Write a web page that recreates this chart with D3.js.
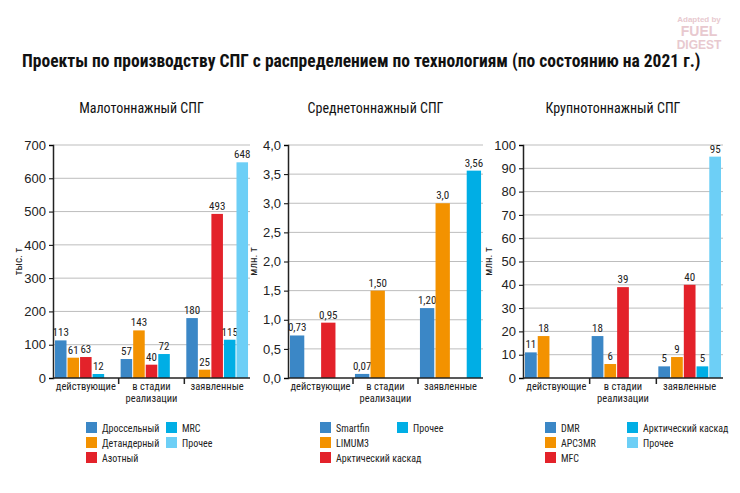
<!DOCTYPE html>
<html><head><meta charset="utf-8">
<script src="https://cdn.jsdelivr.net/npm/d3@7"></script>
<style>body{margin:0;background:#fff;font-family:Roboto,"Liberation Sans",sans-serif}
.n{font-family:"Liberation Sans Narrow","Roboto Condensed","DejaVu Sans Condensed",sans-serif}</style>
</head><body><svg id="c" width="740" height="493"></svg>
<script>
const groups = ["действующие", "в стадии\nреализации", "заявленные"];
const colors = {blue:"#3b87c6", orange:"#f39200", red:"#e3222a", cyan:"#00aee5", light:"#6dcff6"};

const p1Series = ["Дроссельный","Детандерный","Азотный","MRC","Прочее"];
const p1Colors = ["blue","orange","red","cyan","light"];
const p1Values = [[113,61,63,12,null],[57,143,40,72,null],[180,25,493,115,648]];
const p1Labels = [["113","61","63","12",""],["57","143","40","72",""],["180","25","493","115","648"]];
const p1Ticks = [0,100,200,300,400,500,600,700];

const p2Series = ["Smartfin","LIMUM3","Арктический каскад","Прочее"];
const p2Colors = ["blue","orange","red","cyan"];
const p2Values = [[0.73,null,0.95,null],[0.07,1.50,null,null],[1.20,3.0,null,3.56]];
const p2Labels = [["0,73","","0,95",""],["0,07","1,50","",""],["1,20","3,0","","3,56"]];
const p2Ticks = [0,0.5,1,1.5,2,2.5,3,3.5,4];

const p3Series = ["DMR","APC3MR","MFC","Арктический каскад","Прочее"];
const p3Colors = ["blue","orange","red","cyan","light"];
const p3Values = [[11,18,null,null,null],[18,6,39,null,null],[5,9,40,5,95]];
const p3Labels = [["11","18","","",""],["18","6","39","",""],["5","9","40","5","95"]];
const p3Ticks = [0,10,20,30,40,50,60,70,80,90,100];

const svg = d3.select("#c");
svg.append("text").attr("class","n").attr("x",22).attr("y",67).attr("font-size",17.5).attr("font-weight",700).attr("fill","#111")
  .text("Проекты по производству СПГ с распределением по технологиям (по состоянию на 2021 г.)");
const logo = svg.append("g").attr("fill","#e8c9cf").attr("text-anchor","middle").attr("font-family","'Liberation Sans',sans-serif");
logo.append("text").attr("x",699).attr("y",22).attr("font-size",8).attr("font-weight",700).text("Adapted by");
logo.append("text").attr("x",699).attr("y",36).attr("font-size",14).attr("font-weight",900).text("FUEL");
logo.append("text").attr("x",699).attr("y",49).attr("font-size",12).attr("font-weight",900).text("DIGEST");

function panel(cfg){
  const {x0,x1,title,ylab,max,ticks,fmt,series,cols,values,labels,legend} = cfg;
  const top=145, bot=378;
  const g = svg.append("g").attr("class","n");
  g.append("text").attr("x",(x0+x1)/2-10).attr("y",113).attr("text-anchor","middle").attr("font-size",14).attr("fill","#111").text(title);
  const y = d3.scaleLinear().domain([0,max]).range([bot,top]);
  const x = d3.scaleBand().domain(d3.range(3)).range([x0,x1]).paddingInner(0.06).paddingOuter(0.03);
  const xs = d3.scaleBand().domain(d3.range(series.length)).range([0,x.bandwidth()]).paddingInner(0.08);
  g.selectAll(".gl").data(ticks.filter(t=>t>0)).join("line").attr("x1",x0).attr("x2",x1)
    .attr("y1",d=>y(d)).attr("y2",d=>y(d)).attr("stroke","#bdbdbd").attr("stroke-width",1);
  const ya = g.append("g").attr("transform",`translate(${x0},0)`).call(d3.axisLeft(y).tickValues(ticks).tickFormat(fmt).tickSize(4));
  ya.select(".domain").attr("stroke","#222").attr("stroke-width",1.5);
  ya.selectAll("text").attr("font-size",13).attr("fill","#222").attr("font-family",null);
  g.append("text").attr("transform",`translate(${x0-31},${(top+bot)/2}) rotate(-90)`).attr("text-anchor","middle")
    .attr("font-size",11).attr("fill","#222").text(ylab);
  values.forEach((row,gi)=>{
    row.forEach((v,si)=>{
      if(v==null) return;
      const bx = x(gi)+xs(si);
      g.append("rect").attr("x",bx).attr("width",xs.bandwidth()).attr("y",y(v)).attr("height",bot-y(v)).attr("fill",colors[cols[si]]);
      g.append("text").attr("x",bx+xs.bandwidth()/2).attr("y",y(v)-4).attr("text-anchor","middle")
        .attr("font-size",11).attr("fill","#222").text(labels[gi][si]);
    });
  });
  g.append("line").attr("x1",x0).attr("x2",x1).attr("y1",bot).attr("y2",bot).attr("stroke","#222").attr("stroke-width",1.5);
  [1,2].forEach(i=>{const xx=x(i)-x.step()*x.paddingInner()/2;
    g.append("line").attr("x1",xx).attr("x2",xx).attr("y1",bot).attr("y2",bot+6).attr("stroke","#222").attr("stroke-width",1.5);});
  groups.forEach((gr,i)=>{
    const t=g.append("text").attr("x",x(i)+x.bandwidth()/2).attr("y",bot+12).attr("text-anchor","middle").attr("font-size",10.5).attr("fill","#222");
    gr.split("\n").forEach((s,k)=>t.append("tspan").attr("x",x(i)+x.bandwidth()/2).attr("dy",k?12:0).text(s));
  });
  legend.forEach((it)=>{
    const [si,lx,ly]=it;
    g.append("rect").attr("x",lx).attr("y",ly-6).attr("width",11).attr("height",11).attr("fill",colors[cols[si]]);
    g.append("text").attr("x",lx+16).attr("y",ly+3.5).attr("font-size",10).attr("fill","#222").text(series[si]);
  });
}
const fmt1 = d=>d3.format(".1f")(d).replace(".",",");
panel({x0:53,x1:250,title:"Малотоннажный СПГ",ylab:"тыс. т",max:700,ticks:p1Ticks,fmt:d3.format("d"),
  series:p1Series,cols:p1Colors,values:p1Values,labels:p1Labels,
  legend:[[0,86,428],[1,86,443],[2,86,458],[3,166,428],[4,166,443]]});
panel({x0:288,x1:483,title:"Среднетоннажный СПГ",ylab:"млн. т",max:4,ticks:p2Ticks,fmt:fmt1,
  series:p2Series,cols:p2Colors,values:p2Values,labels:p2Labels,
  legend:[[0,320,428],[1,320,443],[2,320,458],[3,397,428]]});
panel({x0:523,x1:723,title:"Крупнотоннажный СПГ",ylab:"млн. т",max:100,ticks:p3Ticks,fmt:d3.format("d"),
  series:p3Series,cols:p3Colors,values:p3Values,labels:p3Labels,
  legend:[[0,545,428],[1,545,443],[2,545,458],[3,627,428],[4,627,443]]});
</script></body></html>
